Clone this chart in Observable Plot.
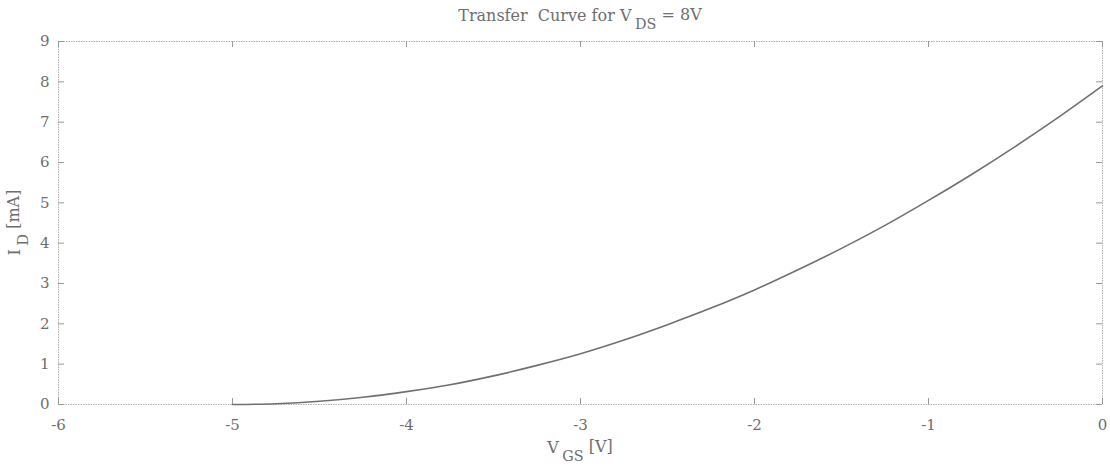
<!DOCTYPE html>
<html>
<head>
<meta charset="utf-8">
<script src="https://cdn.jsdelivr.net/npm/d3@7"></script>
<script src="https://cdn.jsdelivr.net/npm/@observablehq/plot@0.6"></script>
<style>
  html, body { margin: 0; padding: 0; background: #fff; }
  #chart svg { display: block; }
</style>
</head>
<body>
<div id="chart"></div>
<script>
// Gate voltage V_GS [V] and drain current I_D [mA] of the transfer curve (V_DS = 8 V)
const vgs = [-5, -4.75, -4.5, -4.25, -4, -3.75, -3.5, -3.25, -3, -2.75, -2.5,
             -2.25, -2, -1.75, -1.5, -1.25, -1, -0.75, -0.5, -0.25, 0];
const idMilliamps = [0, 0.02, 0.08, 0.18, 0.32, 0.49, 0.71, 0.97, 1.26, 1.60, 1.98,
                     2.39, 2.84, 3.34, 3.87, 4.44, 5.06, 5.71, 6.40, 7.13, 7.90];
const xTicks = [-6, -5, -4, -3, -2, -1, 0];
const yTicks = [0, 1, 2, 3, 4, 5, 6, 7, 8, 9];

const curve = vgs.map((v, i) => ({vgs: v, id: idMilliamps[i]}));

const W = 1110, H = 470;
const M = {top: 41, right: 8, bottom: 66, left: 58};
const plotW = W - M.left - M.right;
const plotH = H - M.top - M.bottom;
const tickLen = 6;
const ink = "#6e6e6e";
const tickInk = "#999";
const fmt = d => String(d);

const chart = Plot.plot({
  width: W,
  height: H,
  marginTop: M.top,
  marginRight: M.right,
  marginBottom: M.bottom,
  marginLeft: M.left,
  style: {fontFamily: "'DejaVu Serif', 'Liberation Serif', serif", fontSize: "15px", color: ink, background: "#fff"},
  x: {domain: [-6, 0]},
  y: {domain: [0, 9]},
  marks: [
    Plot.frame({stroke: "#b0b0b0", strokeDasharray: "1.5,1"}),
    // tick labels only; the inward tick marks are drawn below
    Plot.axisX(xTicks, {anchor: "bottom", tickSize: 0, tickPadding: 15, tickFormat: fmt, label: null, fontSize: 15}),
    Plot.axisY(yTicks, {anchor: "left", tickSize: 0, tickPadding: 9, tickFormat: fmt, label: null, fontSize: 15}),
    // inward ticks on all four sides of the box
    Plot.tickX(xTicks, {x: d => d, insetTop: plotH - tickLen, stroke: tickInk, strokeWidth: 1}),
    Plot.tickX(xTicks, {x: d => d, insetBottom: plotH - tickLen, stroke: tickInk, strokeWidth: 1}),
    Plot.tickY(yTicks, {y: d => d, insetRight: plotW - tickLen, stroke: tickInk, strokeWidth: 1}),
    Plot.tickY(yTicks, {y: d => d, insetLeft: plotW - tickLen, stroke: tickInk, strokeWidth: 1}),
    Plot.line(curve, {x: "vgs", y: "id", stroke: "#707070", strokeWidth: 1.6, curve: "monotone-x"})
  ]
});

document.getElementById("chart").append(chart);

// Titles with subscripts, added as SVG text with tspans
const svg = d3.select(chart);
const font = "'DejaVu Serif', 'Liberation Serif', serif";
const plotCx = M.left + plotW / 2;

function labelWithSub(g, main, sub, rest) {
  g.append("tspan").text(main);
  g.append("tspan").attr("dx", "0.25em").attr("dy", "0.55em").attr("font-size", "0.9em").text(sub);
  g.append("tspan").attr("dy", "-0.55em").text(rest);
}

const title = svg.append("text")
  .attr("x", plotCx).attr("y", 21)
  .attr("text-anchor", "middle")
  .attr("font-family", font).attr("font-size", 16).attr("fill", ink);
labelWithSub(title, "Transfer  Curve for V", "DS", " = 8V");

const xLabel = svg.append("text")
  .attr("x", plotCx).attr("y", 453)
  .attr("text-anchor", "middle")
  .attr("font-family", font).attr("font-size", 16).attr("fill", ink);
labelWithSub(xLabel, "V", "GS", " [V]");

const yLabel = svg.append("text")
  .attr("transform", `translate(20, ${M.top + plotH / 2}) rotate(-90)`)
  .attr("text-anchor", "middle")
  .attr("font-family", font).attr("font-size", 16).attr("fill", ink);
labelWithSub(yLabel, "I", "D", " [mA]");
</script>
</body>
</html>
